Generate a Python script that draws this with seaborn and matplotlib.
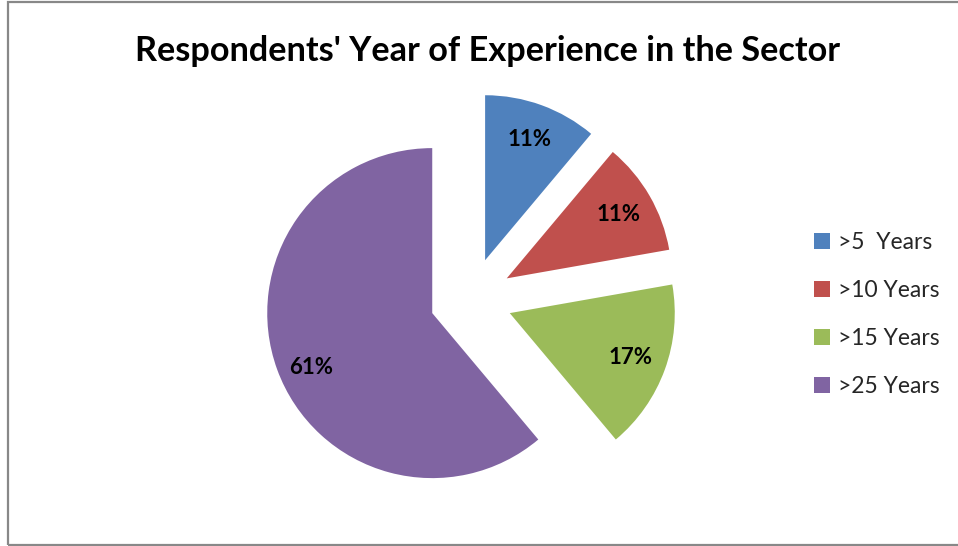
import matplotlib
matplotlib.use("Agg")
import matplotlib.pyplot as plt
from matplotlib.patches import Patch, Rectangle
import seaborn as sns

# Respondents by years of experience (counts out of 18)
categories = [">5  Years", ">10 Years", ">15 Years", ">25 Years"]
counts = [2, 2, 3, 11]
colors = ["#4F81BD", "#C0504D", "#9BBB59", "#8064A2"]
title = "Respondents' Year of Experience in the Sector"

sns.set_theme(style="white")
plt.rcParams["font.family"] = ["Lato", "DejaVu Sans"]

W, H = 958, 546
fig = plt.figure(figsize=(W / 100, H / 100), dpi=100)

# Pie axes: centre at (471, 299) px from top-left, radius 165 px
cx, cy, r_px = 471, 299, 165
span = 1.6
half = span * r_px
ax = fig.add_axes([(cx - half) / W, (H - cy - half) / H, 2 * half / W, 2 * half / H])

wedges, texts, autotexts = ax.pie(
    counts,
    colors=colors,
    startangle=90,
    counterclock=False,
    explode=[0.25] * len(counts),
    autopct="%.0f%%",
    pctdistance=0.78,
    radius=1.0,
    wedgeprops=dict(linewidth=0),
    textprops=dict(fontsize=16, fontweight="bold", color="black"),
)
# Sit the large slice's label a little lower inside its wedge
x, y = autotexts[3].get_position()
autotexts[3].set_position((x, y - 0.065))

ax.set_xlim(-span, span)
ax.set_ylim(-span, span)
ax.set_aspect("equal")
ax.axis("off")

fig.text(488 / W, 1 - 51 / H, title, ha="center", va="center",
         fontsize=24.7, fontweight="bold", color="black")

handles = [Patch(facecolor=c, edgecolor="none") for c in colors]
fig.legend(handles, categories, loc="upper left",
           bbox_to_anchor=(805 / W, 1 - 223 / H), frameon=False,
           fontsize=16.5, handlelength=0.7, handleheight=0.7,
           handletextpad=0.35, labelspacing=1.17, borderaxespad=0)

# Chart area border
fig.add_artist(Rectangle((8 / W, 1 / H), 1.2, 1 - 3 / H, transform=fig.transFigure,
                         fill=False, edgecolor="#888888", linewidth=1.6))

fig.savefig("out.png", dpi=100)
